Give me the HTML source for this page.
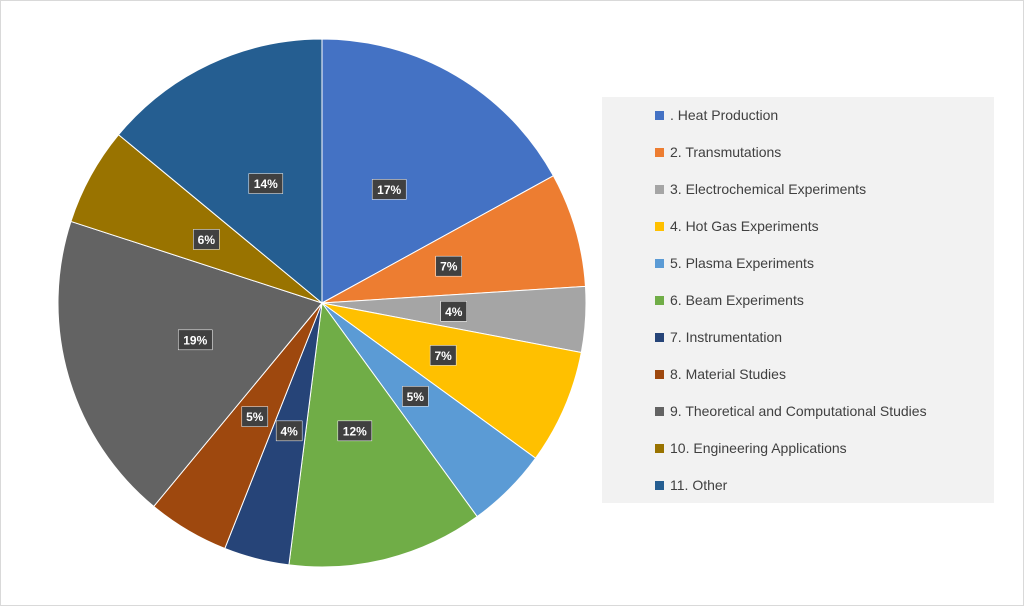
<!DOCTYPE html>
<html><head><meta charset="utf-8"><style>
body{margin:0;background:#fff;}
#c{position:relative;width:1024px;height:606px;font-family:"Liberation Sans",sans-serif;}
</style></head><body>
<div id="c">
<svg id="svg" width="1024" height="606" xmlns="http://www.w3.org/2000/svg">
<rect x="0.5" y="0.5" width="1023" height="605" fill="#fff" stroke="#d9d9d9"/>
<rect x="602" y="97" width="392" height="406" fill="#f2f2f2"/>
<g id="slices"></g><g id="labels"></g><g id="legend"></g>
</svg>
</div>
<script>
const categories=[". Heat Production","2. Transmutations","3. Electrochemical Experiments","4. Hot Gas Experiments","5. Plasma Experiments","6. Beam Experiments","7. Instrumentation","8. Material Studies","9. Theoretical and Computational Studies","10. Engineering Applications","11. Other"];
const values=[17,7,4,7,5,12,4,5,19,6,14];
const valueLabels=["17%","7%","4%","7%","5%","12%","4%","5%","19%","6%","14%"];
const colors=["#4472C4","#ED7D31","#A5A5A5","#FFC000","#5B9BD5","#70AD47","#264478","#9E480E","#636363","#997300","#255E91"];
const NS="http://www.w3.org/2000/svg";
const cx=322,cy=303,r=264;
const total=values.reduce((a,b)=>a+b,0);
function pt(a,rr){return [cx+rr*Math.sin(a),cy-rr*Math.cos(a)];}
let acc=0;
const gS=document.getElementById('slices'),gL=document.getElementById('labels'),gLeg=document.getElementById('legend');
values.forEach((v,i)=>{
  const a0=acc/total*2*Math.PI;acc+=v;const a1=acc/total*2*Math.PI;
  const p0=pt(a0,r),p1=pt(a1,r);
  const p=document.createElementNS(NS,'path');
  p.setAttribute('d',`M${cx},${cy}L${p0[0]},${p0[1]}A${r},${r} 0 ${a1-a0>Math.PI?1:0} 1 ${p1[0]},${p1[1]}Z`);
  p.setAttribute('fill',colors[i]);p.setAttribute('stroke','#fff');p.setAttribute('stroke-width','1');
  
  
  gS.appendChild(p);
  const m=pt((a0+a1)/2,r*0.5);
  const w=valueLabels[i].length*8+10;
  const bx=document.createElementNS(NS,'rect');
  bx.setAttribute('x',m[0]-w/2);bx.setAttribute('y',m[1]-10);bx.setAttribute('width',w);bx.setAttribute('height',20);
  bx.setAttribute('fill','#404040');bx.setAttribute('stroke','#fff');bx.setAttribute('stroke-width','0.5');
  
  
  gL.appendChild(bx);
  const t=document.createElementNS(NS,'text');
  t.setAttribute('x',m[0]);t.setAttribute('y',m[1]+4.5);t.setAttribute('text-anchor','middle');
  t.setAttribute('fill','#fff');t.setAttribute('font-size','12');t.setAttribute('font-weight','bold');
  t.textContent=valueLabels[i];
  
  
  gL.appendChild(t);
  const ly=115+i*37;
  const sq=document.createElementNS(NS,'rect');
  sq.setAttribute('x',655);sq.setAttribute('y',ly-4);sq.setAttribute('width',9);sq.setAttribute('height',9);sq.setAttribute('fill',colors[i]);
  
  
  gLeg.appendChild(sq);
  const lt=document.createElementNS(NS,'text');
  lt.setAttribute('x',670);lt.setAttribute('y',ly+5);lt.setAttribute('fill','#404040');lt.setAttribute('font-size','14');
  lt.textContent=categories[i];
  
  
  gLeg.appendChild(lt);
});
</script>
</body></html>
